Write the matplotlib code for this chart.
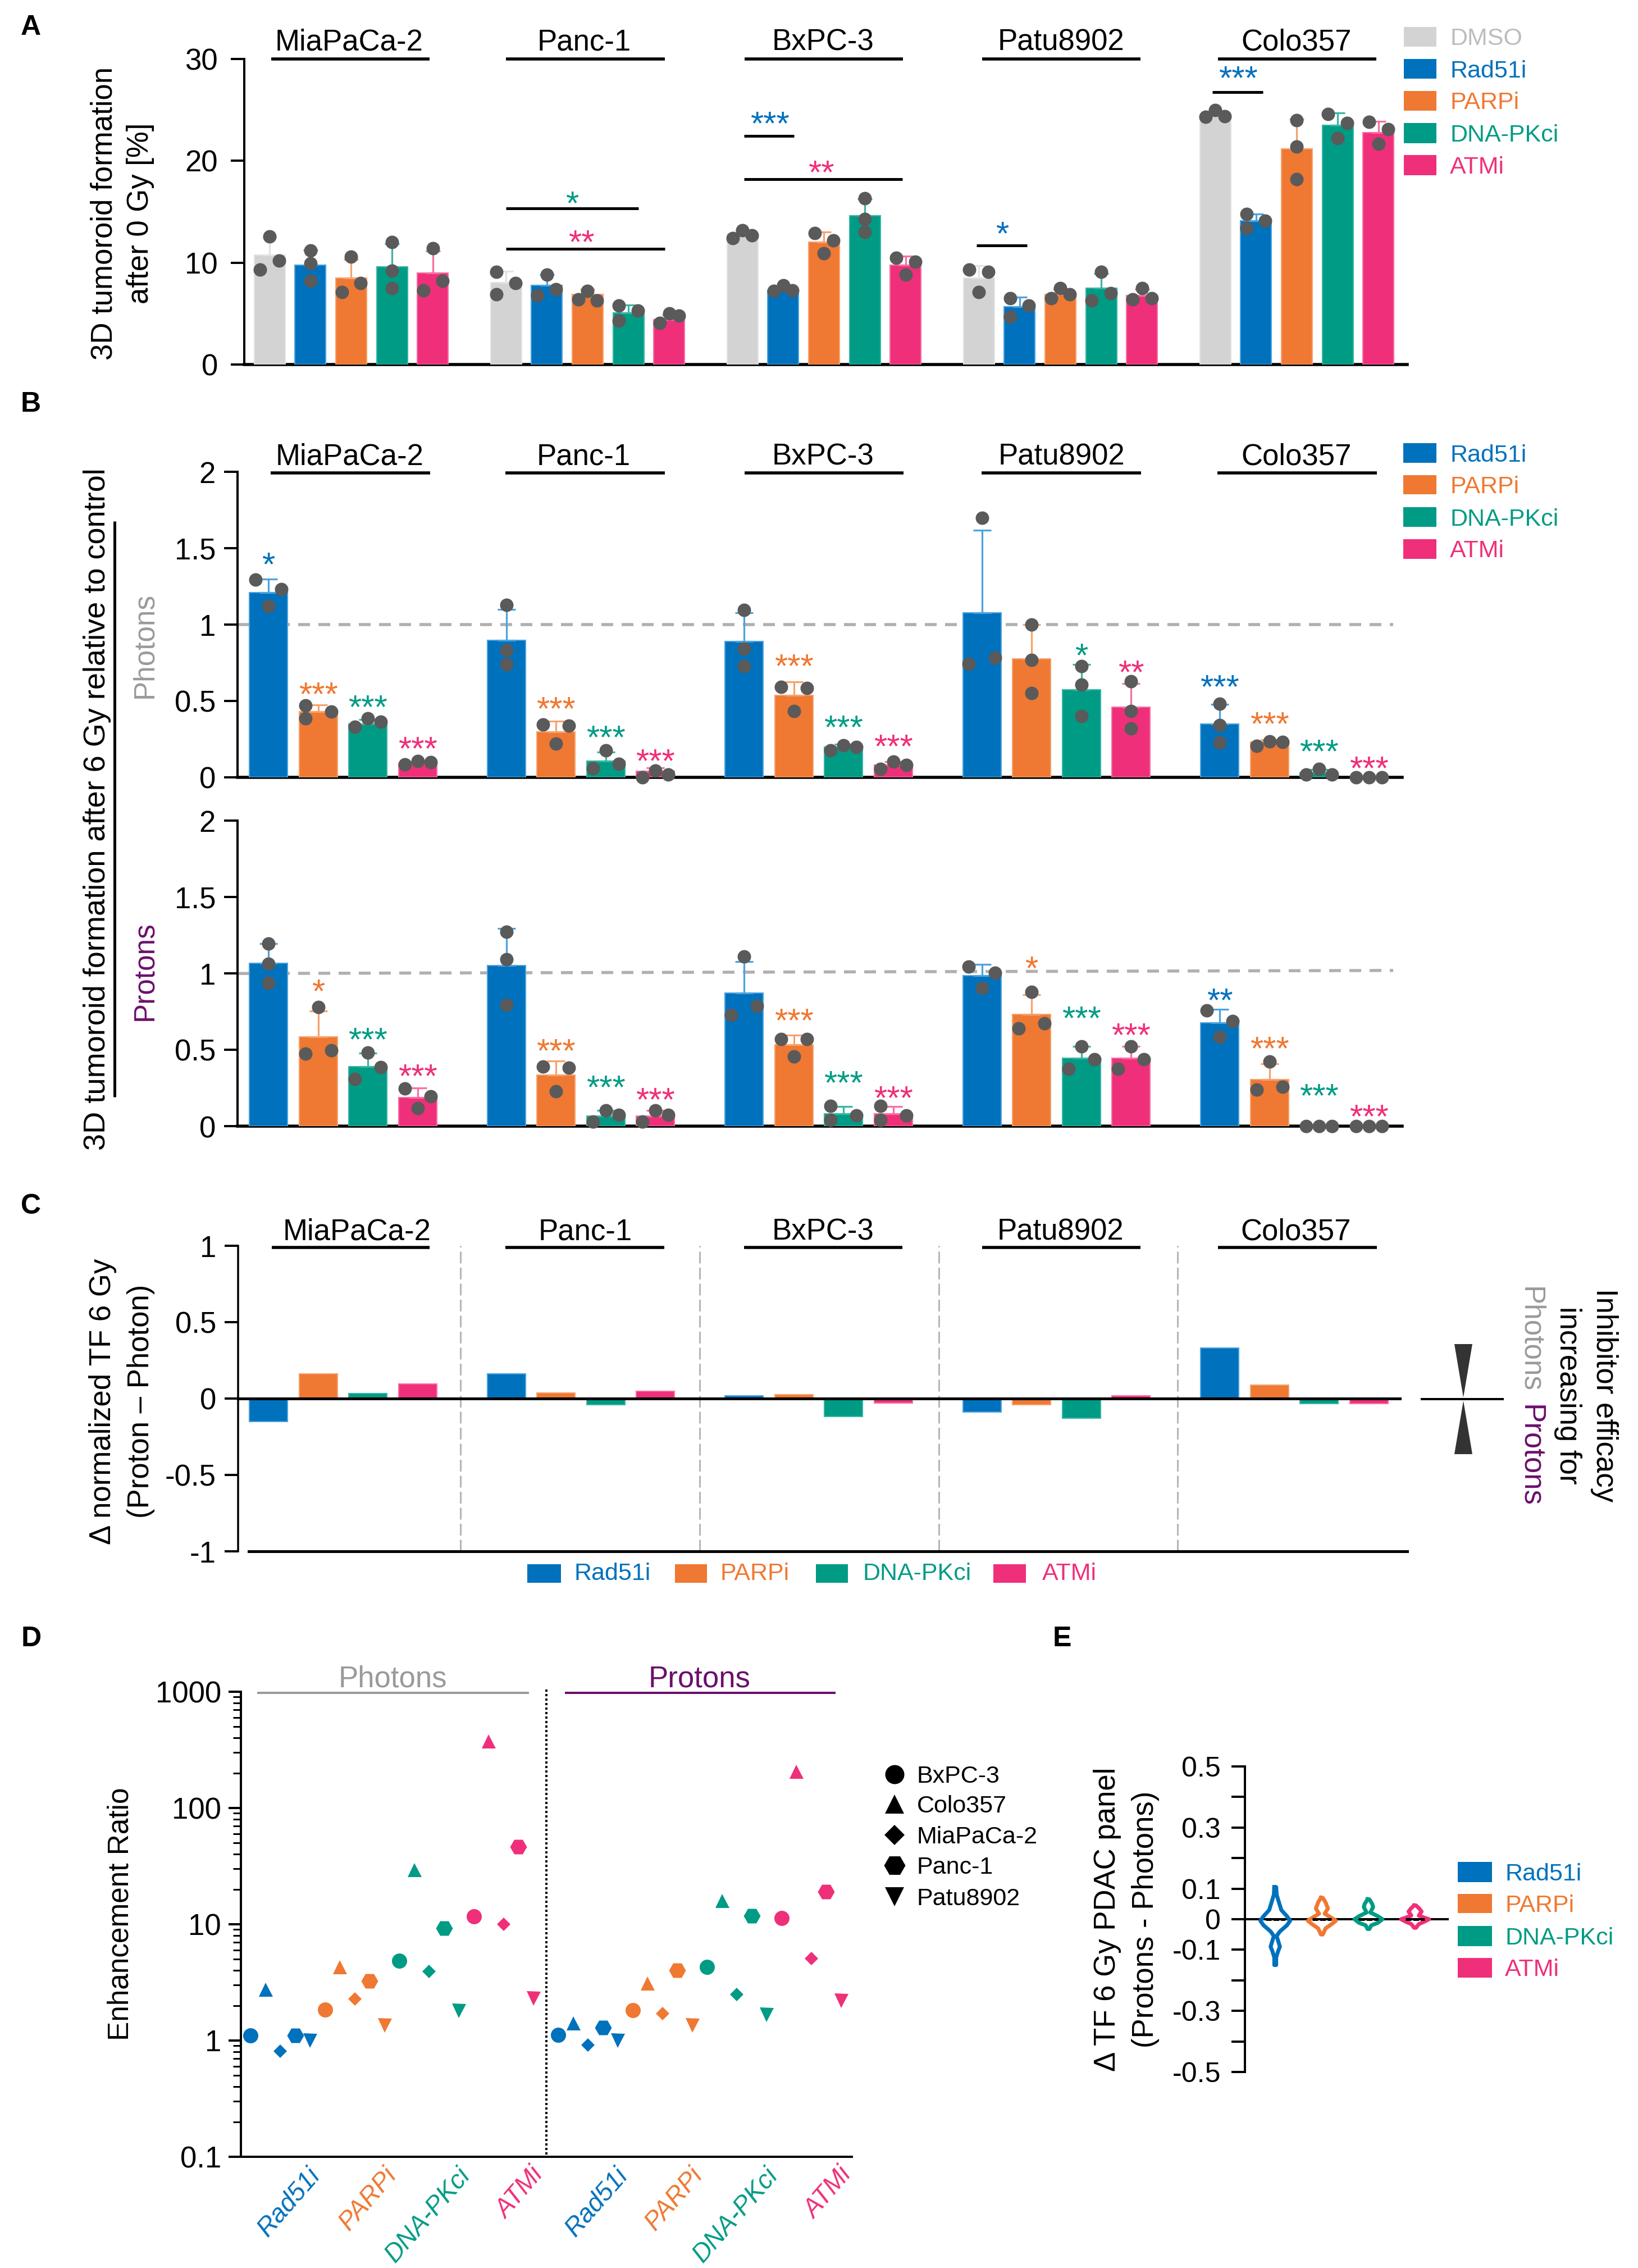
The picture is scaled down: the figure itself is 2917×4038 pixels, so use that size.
import numpy as np
import matplotlib
matplotlib.use("Agg")
import matplotlib.pyplot as plt
from matplotlib.ticker import FixedLocator, NullFormatter, FixedFormatter
from matplotlib.patches import Rectangle, Polygon

plt.rcParams['font.family'] = ['Liberation Sans', 'DejaVu Sans']
W, H = 2917, 4038
PX = 72 / 100  # points per pixel at dpi 100

LINES = ["MiaPaCa-2", "Panc-1", "BxPC-3", "Patu8902", "Colo357"]
DRUGS = ["Rad51i", "PARPi", "DNA-PKci", "ATMi"]
C_DMSO, C_RAD, C_PARP, C_DNA, C_ATM = "#D3D3D3", "#0071BC", "#EF7832", "#009B85", "#EF2F7A"
DRUG_COLORS = [C_RAD, C_PARP, C_DNA, C_ATM]
ERR_COLORS = {C_DMSO: "#E3E3E3", C_RAD: "#4AA3DF", C_PARP: "#F6A26C", C_DNA: "#38B5A4", C_ATM: "#F66FA3"}
TXT_DMSO = "#BDBDBD"
GRAY, PURPLE = "#9A9A9A", "#6B0F6B"
DOT = "#5A5A5A"

# ---- Panel A: 3D tumoroid formation after 0 Gy
A_DMSO = [10.76, 8.05, 12.8, 8.5, 24.5]
A_RAD = [9.75, 7.8, 7.3, 5.7, 14.1]
A_PARP = [8.5, 6.9, 12.0, 6.9, 21.2]
A_DNA = [9.6, 5.1, 14.6, 7.5, 23.5]
A_ATM = [9.0, 4.4, 9.75, 6.8, 22.8]
A_DMSO_DOTS = [(12.56, 10.2, 9.3), (9.1, 8.0, 6.9), (13.2, 12.7, 12.4), (9.3, 9.1, 7.1), (25, 24.4, 24.3)]
A_RAD_DOTS = [(11.2, 9.9, 8.2), (8.8, 7.4, 6.8), (7.8, 7.3, 7.2), (6.5, 5.8, 4.7), (14.8, 14.1, 13.4)]
A_PARP_DOTS = [(10.6, 8.0, 7.1), (7.2, 6.4, 6.3), (12.9, 12.2, 10.9), (7.5, 6.9, 6.5), (24, 21.4, 18.2)]
A_DNA_DOTS = [(12, 9.2, 7.5), (5.8, 5.3, 4.3), (16.3, 14.3, 13), (9.1, 7, 6.3), (24.6, 23.7, 22.2)]
A_ATM_DOTS = [(11.4, 8.2, 7.3), (5, 4.8, 4.1), (10.5, 10.1, 8.8), (7.5, 6.5, 6.4), (23.8, 23.1, 21.7)]
A_DMSO_JIT = ["0+-", "-+-", "0+-", "-+0", "0+-"]
A_RAD_JIT = ["000", "0+-", "0+-", "-+-", "-+-"]
A_PARP_JIT = ["0+-", "0-+", "-+0", "0+-", "000"]
A_DNA_JIT = ["000", "-+-", "000", "0+-", "-+0"]
A_ATM_JIT = ["0+-", "0+-", "-+0", "0+-", "-+0"]

# ---- Panel B, photons
PH_RAD = [1.21, .897, .888, 1.076, .351]
PH_PARP = [.43, .297, .535, .776, .23]
PH_DNA = [.35, .105, .2, .575, .03]
PH_ATM = [.09, .04, .08, .46, 0]
PH_RAD_DOTS = [(1.295, 1.23, 1.12), (1.128, .83, .74), (1.095, .843, .728), (1.70, .783, .743), (.48, .342, .228)]
PH_PARP_DOTS = [(.47, .43, .385), (.345, .338, .22), (.593, .585, .435), (1.0, .768, .552), (.235, .23, .207)]
PH_DNA_DOTS = [(.387, .363, .33), (.177, .09, .057), (.21, .2, .177), (.728, .608, .402), (.055, .02, .018)]
PH_ATM_DOTS = [(.108, .0975, .083), (.045, .02, 0), (.102, .0825, .055), (.627, .432, .32), (0, 0, 0)]
PH_RAD_JIT = ["-+0", "000", "000", "0+-", "000"]
PH_PARP_JIT = ["-+-", "-+0", "-+0", "000", "0+-"]
PH_DNA_JIT = ["0+-", "0+-", "0+-", "000", "0+-"]
PH_ATM_JIT = ["0+-", "0+-", "0+-", "000", "0-+"]
# (cell line, drug, number of asterisks, height)
PH_STARS = [(0, 0, 1, 1.433), (0, 1, 3, .585), (0, 2, 3, .498), (0, 3, 3, .228),
            (1, 1, 3, .488), (1, 2, 3, .30), (1, 3, 3, .146),
            (2, 1, 3, .768), (2, 2, 3, .368), (2, 3, 3, .24),
            (3, 2, 1, .837), (3, 3, 2, .728),
            (4, 0, 3, .63), (4, 1, 3, .39), (4, 2, 3, .21), (4, 3, 3, .0975)]

# ---- Panel B, protons
PR_RAD = [1.068, 1.053, .873, .986, .678]
PR_PARP = [.585, .335, .533, .732, .308]
PR_DNA = [.393, .068, .083, .447, 0]
PR_ATM = [.188, .068, .083, .447, 0]
PR_RAD_DOTS = [(1.197, 1.062, .94), (1.272, 1.092, .795), (1.11, .788, .728), (1.046, 1.005, .906), (.76, .687, .585)]
PR_PARP_DOTS = [(.78, .498, .476), (.39, .383, .228), (.57, .57, .458), (.881, .675, .64), (.425, .26, .24)]
PR_DNA_DOTS = [(.483, .387, .31), (.105, .075, .03), (.135, .072, .042), (.525, .438, .375), (0, 0, 0)]
PR_ATM_DOTS = [(.248, .198, .12), (.105, .075, .03), (.135, .072, .042), (.525, .438, .375), (0, 0, 0)]
PR_RAD_JIT = ["000", "000", "0+-", "-+0", "-+0"]
PR_PARP_JIT = ["0+-", "-+0", "-+0", "0+-", "0+-"]
PR_DNA_JIT = ["0+-", "0+-", "-+-", "0+-", "0-+"]
PR_ATM_JIT = ["-+0", "0+-", "-+-", "0+-", "0-+"]
PR_STARS = [(0, 1, 1, .923), (0, 2, 3, .608), (0, 3, 3, .368),
            (1, 1, 3, .533), (1, 2, 3, .293), (1, 3, 3, .213),
            (2, 1, 3, .732), (2, 2, 3, .323), (2, 3, 3, .225),
            (3, 1, 1, 1.073), (3, 2, 3, .747), (3, 3, 3, .638),
            (4, 0, 2, .863), (4, 1, 3, .55), (4, 2, 3, .24), (4, 3, 3, .105)]

# ---- Panel C: proton minus photon
C_RAD_V = [-.15, .16, .019, -.09, .33]
C_PARP_V = [.16, .037, .026, -.04, .089]
C_DNA_V = [.033, -.04, -.117, -.128, -.033]
C_ATM_V = [.096, .047, -.028, .019, -.033]

# ---- Panel D: enhancement ratio (order BxPC-3, Colo357, MiaPaCa-2, Panc-1, Patu8902)
D_LINES = ["BxPC-3", "Colo357", "MiaPaCa-2", "Panc-1", "Patu8902"]
D_MARKERS = ['o', '^', 'D', 'H', 'v']
D_PH_RAD = [1.10, 2.75, .81, 1.1, 1.0]
D_PH_PARP = [1.85, 4.3, 2.29, 3.26, 1.35]
D_PH_DNA = [4.84, 29.4, 3.95, 9.2, 1.8]
D_PH_ATM = [11.7, 376, 10, 46.4, 2.3]
D_PR_RAD = [1.12, 1.41, .91, 1.29, 1.0]
D_PR_PARP = [1.82, 3.12, 1.7, 4.02, 1.35]
D_PR_DNA = [4.3, 16, 2.49, 11.8, 1.67]
D_PR_ATM = [11.3, 206, 5.1, 19, 2.2]

# ---- Panel E: violin outlines (delta value, half width)
E_RAD_Y = [.105, .08, .06, .03, .01, -.005, -.02, -.04, -.055, -.075, -.09, -.105, -.125, -.15]
E_RAD_W = [.02, .03, .07, .13, .25, .32, .25, .1, .03, .07, .1, .06, .02, .02]
E_PARP_Y = [.07, .055, .035, .018, .005, -.005, -.015, -.03, -.05]
E_PARP_W = [.02, .08, .13, .06, .2, .3, .22, .08, .02]
E_DNA_Y = [.065, .05, .04, .022, .01, 0, -.012, -.02, -.032]
E_DNA_W = [.02, .08, .1, .04, .2, .3, .2, .06, .02]
E_ATM_Y = [.045, .035, .025, .012, .005, 0, -.008, -.016, -.028]
E_ATM_W = [.02, .09, .14, .08, .2, .3, .2, .08, .02]
E_TICKS = [.5, .4, .3, .2, .1, 0, -.1, -.2, -.3, -.4, -.5]
E_LABELS = ["0.5", "", "0.3", "", "0.1", "0", "-0.1", "", "-0.3", "", "-0.5"]

fig = plt.figure(figsize=(W / 100, H / 100), dpi=100, facecolor='white')


def axes_px(l, t, r, b):
    ax = fig.add_axes([l / W, 1 - b / H, (r - l) / W, (b - t) / H])
    ax.patch.set_alpha(0)
    for s in ('top', 'right'):
        ax.spines[s].set_visible(False)
    return ax


def style(ax, ticks, labels, lw_left=4, lw_bottom=5.5, fs=38, tick_px=24, pad_px=23):
    ax.set_yticks(ticks)
    ax.set_yticklabels(labels, fontsize=fs)
    ax.tick_params(axis='y', length=tick_px * PX, width=4 * PX, pad=pad_px * PX)
    ax.spines['left'].set_linewidth(lw_left * PX)
    ax.spines['bottom'].set_linewidth(lw_bottom * PX)
    ax.set_xticks([])


def bars(ax, means, dots, jits, color, slot, pitch, width, spread, cap_px):
    """One treatment across the five cell lines: bar, upper SD whisker, replicate dots."""
    for g in range(5):
        x = g * pitch + slot
        ax.bar(x, means[g], width=width, color=color, edgecolor=ERR_COLORS[color],
               linewidth=1.5, zorder=3)
        sd = np.std(dots[g], ddof=1)
        ax.errorbar(x, means[g], yerr=[[0], [sd]], color=ERR_COLORS[color], elinewidth=3.2 * PX,
                    capsize=cap_px * PX, capthick=3.2 * PX, zorder=4)
        off = [{'0': 0, '+': 1, '-': -1}[c] * spread for c in jits[g]]
        ax.plot(x + np.array(off), dots[g], 'o', ms=24 * PX, mfc=DOT, mec=DOT, mew=0, ls='none',
                zorder=6, clip_on=False)


STAR_LIFT = 0.50  # height of the asterisk centre above the baseline, in em


def stars(ax, spec, pitch):
    for g, d, n, y in spec:
        ax.annotate("*" * n, (g * pitch + d, y), xytext=(0, -STAR_LIFT * 43), textcoords='offset points',
                    ha='center', va='baseline', fontsize=43, color=DRUG_COLORS[d], zorder=7,
                    annotation_clip=False)


# ---------- overlay in pixel coordinates for titles, brackets and legends
ov = fig.add_axes([0, 0, 1, 1], zorder=20)
ov.set_xlim(0, W)
ov.set_ylim(H, 0)
ov.axis('off')


def T(x, y, s, fs=38, color='black', ha='center', va='center', rot=0, **kw):
    if va == 'center':
        if rot == 0:
            y += 4
        elif rot == 90:
            x += 3
    ov.text(x, y, s, fontsize=fs, color=color, ha=ha, va=va, rotation=rot,
            rotation_mode='anchor', **kw)


def L(x0, x1, y0, y1=None, lw=5, color='black'):
    ov.plot([x0, x1], [y0, y0 if y1 is None else y1], color=color, lw=lw * PX, solid_capstyle='butt')


def ostar(x, y, n, color):
    T(x, y + STAR_LIFT * 60, "*" * n, fs=43, color=color, va='baseline')


def legend(x0, x1, tx, rows, names, colors, txtcolors, fs=31):
    for (t, b), name, c, tc in zip(rows, names, colors, txtcolors):
        ov.add_patch(Rectangle((x0, t), x1 - x0, b - t, fc=c, ec='none'))
        T(tx, (t + b) / 2, name, fs=fs, color=tc, ha='left')


HEAD_X = [(483, 765), (901, 1184), (1326, 1608), (1749, 2031), (2169, 2451)]
HEAD_TX = [622, 1040, 1466, 1889, 2309]


def headers(y_line, y_text, xs=HEAD_X, tx=HEAD_TX):
    for (a, b), t, name in zip(xs, tx, LINES):
        L(a, b, y_line, lw=5.5)
        T(t, y_text, name)


# ---------- Panel A
axA = axes_px(435, 105, 2506, 649)
PA, WA, X0A = 421 / 72.7, 55 / 72.7, 480
axA.set_xlim((435 - X0A) / 72.7, (2506 - X0A) / 72.7)
axA.set_ylim(0, 30)
style(axA, [0, 10, 20, 30], ["0", "10", "20", "30"])
for i, (m, d, j, c) in enumerate([(A_DMSO, A_DMSO_DOTS, A_DMSO_JIT, C_DMSO), (A_RAD, A_RAD_DOTS, A_RAD_JIT, C_RAD),
                                  (A_PARP, A_PARP_DOTS, A_PARP_JIT, C_PARP), (A_DNA, A_DNA_DOTS, A_DNA_JIT, C_DNA),
                                  (A_ATM, A_ATM_DOTS, A_ATM_JIT, C_ATM)]):
    bars(axA, m, d, j, c, i, PA, WA, 0.23, 13)
headers(105, 71)
T(182, 380, "3D tumoroid formation", rot=90)
T(247, 380, "after 0 Gy [%]", rot=90)
for a, b, y, sx, sy, n, c in [(901, 1137, 371, 1019, 351, 1, C_DNA), (901, 1184, 443, 1035, 420, 2, C_ATM),
                              (1325, 1414, 242, 1371, 209, 3, C_RAD), (1325, 1607, 319, 1462, 296, 2, C_ATM),
                              (1739, 1829, 437, 1785, 405, 1, C_RAD), (2159, 2249, 164, 2205, 128, 3, C_RAD)]:
    L(a, b, y, lw=5)
    ostar(sx, sy, n, c)
legend(2500, 2558, 2582, [(48, 83), (105, 140), (162, 197), (219, 255), (276, 312)],
       ["DMSO"] + DRUGS, [C_DMSO] + DRUG_COLORS, [TXT_DMSO] + DRUG_COLORS)

# ---------- Panel B
PB, WB, X0B = 423.5 / 88.6, 68 / 88.6, 478
for top, bot, rows, star_spec, line_end in [
    (840, 1384, [(PH_RAD, PH_RAD_DOTS, PH_RAD_JIT), (PH_PARP, PH_PARP_DOTS, PH_PARP_JIT),
                 (PH_DNA, PH_DNA_DOTS, PH_DNA_JIT), (PH_ATM, PH_ATM_DOTS, PH_ATM_JIT)], PH_STARS, 1.0),
    (1461, 2005.5, [(PR_RAD, PR_RAD_DOTS, PR_RAD_JIT), (PR_PARP, PR_PARP_DOTS, PR_PARP_JIT),
                    (PR_DNA, PR_DNA_DOTS, PR_DNA_JIT), (PR_ATM, PR_ATM_DOTS, PR_ATM_JIT)], PR_STARS, 1.02)]:
    ax = axes_px(423, top, 2497, bot)
    ax.set_xlim((423 - X0B) / 88.6, (2497 - X0B) / 88.6)
    ax.set_ylim(0, 2)
    style(ax, [0, .5, 1, 1.5, 2], ["0", "0.5", "1", "1.5", "2"], pad_px=15)
    ax.plot([ax.get_xlim()[0], (2481 - X0B) / 88.6], [1, line_end], color="#B0B0B0", lw=5.5 * PX,
            dashes=(21 / 5.5, 15 / 5.5), zorder=1)
    for i, (m, d, j) in enumerate(rows):
        bars(ax, m, d, j, DRUG_COLORS[i], i, PB, WB, 0.26, 16)
    stars(ax, star_spec, PB)
headers(842, 809, [(482, 766), (900, 1184), (1326, 1609), (1748, 2032), (2168, 2452)], [623, 1039, 1466, 1890, 2309])
T(170, 1441, "3D tumoroid formation after 6 Gy relative to control", fs=39, rot=90)
L(204, 204, 928, 1953, lw=5)
T(255, 1149, "Photons", fs=37, color=GRAY, rot=90)
T(255, 1729, "Protons", fs=37, color=PURPLE, rot=90)
legend(2499, 2558, 2582, [(789, 824), (846, 880), (903, 938), (960, 995)], DRUGS, DRUG_COLORS, DRUG_COLORS)

# ---------- Panel C
axC = axes_px(424, 2218, 2506, 2762)
axC.set_xlim((424 - X0B) / 88.6, (2506 - X0B) / 88.6)
axC.set_ylim(-1, 1)
style(axC, [-1, -.5, 0, .5, 1], ["-1", "-0.5", "0", "0.5", "1"], lw_left=3.5, pad_px=15)
axC.spines['bottom'].set_visible(False)
for i, vals in enumerate([C_RAD_V, C_PARP_V, C_DNA_V, C_ATM_V]):
    axC.bar(np.arange(5) * PB + i, vals, width=WB, color=DRUG_COLORS[i],
            edgecolor=ERR_COLORS[DRUG_COLORS[i]], linewidth=1.5, zorder=3)
axC.plot([axC.get_xlim()[0], (2493 - X0B) / 88.6], [0, 0], color='black', lw=5 * PX, zorder=5, clip_on=False)
axC.plot([(443 - X0B) / 88.6, (2506 - X0B) / 88.6], [-1, -1], color='black', lw=5 * PX, zorder=5, clip_on=False)
for xp in [820, 1246, 1672, 2097]:
    axC.plot([(xp - X0B) / 88.6] * 2, [-1, 1], color="#B5B5B5", lw=3 * PX, dashes=(7, 2.5), zorder=1)
headers(2221, 2190, [(484, 765), (900, 1183), (1325, 1607), (1749, 2031), (2169, 2452)], [636, 1042, 1466, 1888, 2308])
T(180, 2495, "Δ normalized TF 6 Gy", rot=90)
T(248, 2495, "(Proton – Photon)", rot=90)
T(2857, 2484, "Inhibitor efficacy", rot=-90)
T(2792, 2484, "increasing for", rot=-90)
T(2725, 2385, "Photons", fs=37, color=GRAY, rot=-90)
T(2725, 2592, "Protons", fs=38, color=PURPLE, rot=-90)
L(2530, 2678, 2491, lw=4)
ov.add_patch(Polygon([(2590, 2393), (2622, 2393), (2606, 2488)], fc="#333333", ec='none'))
ov.add_patch(Polygon([(2590, 2589), (2622, 2589), (2606, 2494)], fc="#333333", ec='none'))
for x0, x1, tx, name, c in zip([939, 1202, 1453, 1769], [999, 1259, 1510, 1827], [1022, 1283, 1536, 1856],
                               DRUGS, DRUG_COLORS):
    ov.add_patch(Rectangle((x0, 2785), x1 - x0, 33, fc=c, ec='none'))
    T(tx, 2798, name, fs=31, color=c, ha='left')

# ---------- Panel D
axD = axes_px(429, 3012, 1517, 3840)
axD.set_yscale('log')
axD.set_xlim((429 - 446) / 26.5, (1517 - 446) / 26.5)
axD.set_ylim(.1, 1000)
axD.set_xticks([])
axD.yaxis.set_major_locator(FixedLocator([.1, 1, 10, 100, 1000]))
axD.yaxis.set_major_formatter(FixedFormatter(["0.1", "1", "10", "100", "1000"]))
axD.yaxis.set_minor_locator(FixedLocator([m * 10.0 ** e for e in range(-1, 3) for m in range(2, 10)]))
axD.yaxis.set_minor_formatter(NullFormatter())
axD.tick_params(axis='y', which='major', length=22 * PX, width=4 * PX, pad=13 * PX, labelsize=38)
axD.tick_params(axis='y', which='minor', length=14 * PX, width=3 * PX)
axD.spines['left'].set_linewidth(4 * PX)
axD.spines['bottom'].set_linewidth(4 * PX)
D_SIZE = [27, 25, 17, 30, 25]
for block, start in [((D_PH_RAD, D_PH_PARP, D_PH_DNA, D_PH_ATM), 0), ((D_PR_RAD, D_PR_PARP, D_PR_DNA, D_PR_ATM), 20.68)]:
    for i, vals in enumerate(block):
        for k, v in enumerate(vals):
            axD.plot(start + 5 * i + k, v, D_MARKERS[k], ms=D_SIZE[k] * PX, color=DRUG_COLORS[i], mew=0, zorder=4)
axD.plot([19.9, 19.9], [.105, 1050], color='black', lw=4 * PX, ls=(0, (1, 1)), clip_on=False)
L(458, 942, 3014, lw=4, color=GRAY)
L(1006, 1488, 3014, lw=4, color=PURPLE)
T(699, 2985, "Photons", color=GRAY)
T(1246, 2985, "Protons", color=PURPLE)
T(212, 3408, "Enhancement Ratio", fs=37, rot=90)
for xe, name, c in zip([563, 699, 830, 960, 1111, 1244, 1378, 1509], DRUGS * 2, DRUG_COLORS * 2):
    T(xe, 3866, name, fs=33, color=c, ha='right', va='center', rot=49, style='italic')
for y, name, m, s in zip([3159, 3212, 3267, 3321, 3377], D_LINES, D_MARKERS, [34, 34, 26, 38, 34]):
    ov.plot([1593], [y], m, ms=s * PX, color='black', mew=0)
    T(1633, y, name, fs=31, ha='left')

# ---------- Panel E
axE = axes_px(2217, 3145, 2580, 3689)
axE.set_xlim(-54 / 83, 309 / 83)
axE.set_ylim(-.5, .5)
style(axE, E_TICKS, E_LABELS, fs=36, lw_bottom=0, tick_px=24, pad_px=19)
axE.spines['bottom'].set_visible(False)
axE.plot(axE.get_xlim(), [0, 0], color='black', lw=4 * PX, zorder=2)
for i, (ys, ws) in enumerate([(E_RAD_Y, E_RAD_W), (E_PARP_Y, E_PARP_W), (E_DNA_Y, E_DNA_W), (E_ATM_Y, E_ATM_W)]):
    ys, ws = np.array(ys), np.array(ws)
    axE.plot(np.r_[i - ws, (i + ws)[::-1], i - ws[0]], np.r_[ys, ys[::-1], ys[0]],
             color=DRUG_COLORS[i], lw=7 * PX, zorder=4, solid_joinstyle='round')
    axE.plot([i - .2, i + .2], [0, 0], color='black', lw=5 * PX, ls=(0, (2, .7)), zorder=5)
T(1969, 3417, "Δ TF 6 Gy PDAC panel", rot=90)
T(2037, 3417, "(Protons - Photons)", rot=90)
legend(2596, 2657, 2680, [(3315, 3351), (3372, 3406), (3429, 3465), (3486, 3521)], DRUGS, DRUG_COLORS, DRUG_COLORS)

# ---------- panel letters
for s, x, y in [("A", 55, 45), ("B", 55, 716), ("C", 55, 2144), ("D", 56, 2914), ("E", 1891, 2914)]:
    T(x, y, s, fs=36, fontweight='bold')

fig.savefig("out.png", dpi=100)
